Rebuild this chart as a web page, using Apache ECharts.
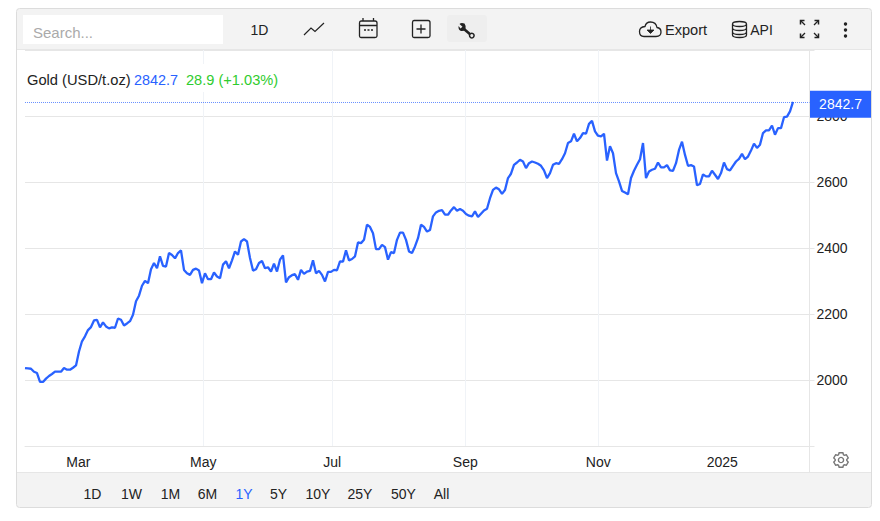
<!DOCTYPE html>
<html>
<head>
<meta charset="utf-8">
<title>Gold</title>
<style>
html,body{margin:0;padding:0;background:#fff}
#chart{width:880px;height:521px}
</style>
<script src="https://cdn.jsdelivr.net/npm/echarts@6/dist/echarts.min.js"></script>
</head>
<body>
<div id="chart"></div>
<script>
// Gold spot price, daily closes, USD per troy ounce
const goldPrices = [
  2037,2036,2035,2026,2022,1995,1995,2005,2013,2019,2026,2026,2026,2037,2032,2032,2038,2045,2087,2118,
  2133,2152,2161,2181,2183,2160,2175,2163,2157,2160,2159,2187,2183,2166,2172,2179,2198,2239,2256,2286,
  2301,2294,2336,2355,2339,2375,2346,2344,2385,2379,2369,2385,2393,2334,2324,2319,2334,2338,2332,2294,
  2324,2306,2306,2326,2314,2309,2350,2360,2339,2363,2390,2380,2420,2427,2420,2370,2332,2336,2355,2361,
  2339,2342,2329,2353,2329,2365,2378,2296,2312,2318,2321,2304,2334,2322,2329,2331,2363,2324,2331,2319,
  2299,2328,2328,2334,2333,2360,2359,2393,2363,2367,2375,2417,2415,2425,2471,2464,2445,2397,2397,2410,
  2403,2365,2388,2385,2425,2447,2447,2425,2390,2385,2405,2430,2471,2464,2450,2455,2496,2508,2513,2515,
  2501,2501,2514,2524,2513,2518,2513,2503,2498,2496,2511,2494,2504,2514,2519,2551,2576,2583,2578,2564,
  2576,2612,2625,2652,2659,2667,2662,2642,2657,2662,2659,2655,2649,2635,2612,2627,2652,2657,2655,2669,
  2687,2718,2723,2746,2723,2733,2748,2746,2776,2785,2753,2740,2738,2746,2665,2708,2687,2627,2602,2573,
  2568,2563,2612,2634,2652,2669,2718,2612,2632,2637,2640,2659,2644,2644,2651,2635,2634,2657,2697,2722,
  2682,2649,2651,2647,2590,2594,2623,2617,2617,2634,2622,2609,2627,2659,2639,2635,2649,2662,2670,2685,
  2669,2677,2695,2716,2703,2713,2748,2756,2756,2771,2743,2763,2763,2796,2798,2813.8,2842.7
];
// Where each month begins, counted in trading sessions
const monthStarts = [17.77, 59.43, 102.43, 146.77, 191.1, 232.43];
const monthLabels = ['Mar', 'May', 'Jul', 'Sep', 'Nov', '2025'];
const rangeLabels = ['1D', '1W', '1M', '6M', '1Y', '5Y', '10Y', '25Y', '50Y', 'All'];
const seriesName = 'Gold (USD/t.oz)';
const lastPrice = 2842.7;
const priceChange = '28.9';
const priceChangePct = '(+1.03%)';

const BLUE = '#2962ff';
const INK = '#222222';
const GRID = '#e6e6e6';
const FONT = 'Arial, "Liberation Sans", sans-serif';

const label = (text, x, y, extra) => ({
  type: 'text', x, y, z: 20, silent: true,
  style: Object.assign({ text, fill: INK, font: '14px ' + FONT, textAlign: 'center', textVerticalAlign: 'middle' }, extra || {})
});

// Toolbar glyphs are registered as custom shapes from their outlines
let glyphCount = 0;
const icon = (d, style) => {
  const name = 'toolbarGlyph' + (glyphCount++);
  echarts.graphic.registerShape(name, echarts.graphic.extendPath(d, {}));
  return {
    type: name, z: 20, silent: true,
    style: Object.assign({ fill: 'none', stroke: '#222', lineWidth: 1.3 }, style || {})
  };
};

// Gear outline for the chart settings button
function gearPath(cx, cy, outer, inner, teeth) {
  const pts = [];
  const step = Math.PI * 2 / teeth;
  for (let i = 0; i < teeth; i++) {
    const a = i * step - Math.PI / 2;
    [[-0.42, inner], [-0.24, outer], [0.24, outer], [0.42, inner]].forEach(([f, r]) => {
      pts.push((cx + r * Math.cos(a + f * step)).toFixed(2) + ' ' + (cy + r * Math.sin(a + f * step)).toFixed(2));
    });
  }
  return 'M' + pts.join('L') + 'Z';
}

const rangeCenters = [92.5, 131.5, 170.5, 207.5, 244, 278.5, 318, 360, 403.5, 441.5];

const chrome = [
  // Frame with toolbar and footer bands
  { type: 'rect', z: 10, silent: true, shape: { x: 17, y: 9, width: 854, height: 40 }, style: { fill: '#f3f3f3' } },
  { type: 'rect', z: 10, silent: true, shape: { x: 17, y: 472, width: 854, height: 35 }, style: { fill: '#f3f3f3' } },
  { type: 'line', z: 11, silent: true, shape: { x1: 17, y1: 49.5, x2: 871, y2: 49.5 }, style: { stroke: GRID, lineWidth: 1 } },
  { type: 'line', z: 11, silent: true, shape: { x1: 17, y1: 472.5, x2: 871, y2: 472.5 }, style: { stroke: GRID, lineWidth: 1 } },
  { type: 'line', z: 11, silent: true, shape: { x1: 809.5, y1: 446, x2: 809.5, y2: 472 }, style: { stroke: GRID, lineWidth: 1 } },
  { type: 'rect', z: 12, silent: true, shape: { x: 16.5, y: 8.5, width: 855, height: 499, r: 3 }, style: { fill: 'none', stroke: '#dcdcdc', lineWidth: 1 } },

  // Search box
  { type: 'rect', z: 12, silent: true, shape: { x: 23, y: 15, width: 200, height: 29 }, style: { fill: '#fff' } },
  label('Search...', 33, 32.5, { fill: '#aaaaaa', font: '15px ' + FONT, textAlign: 'left' }),

  // Left toolbar group
  label('1D', 259.5, 30),
  icon('M304 35L311 28L315 31.5L324 23', { lineWidth: 1.2 }),
  icon('M361 21H375Q377 21 377 23V36Q377 37.5 375 37.5H361Q359.5 37.5 359.5 36V23Q359.5 21 361 21ZM359.5 25.5H377M363 18V21M373.5 18V21M364 30H366M367.5 30H369.5M371 30H373'),
  icon('M414 20.5H428Q430 20.5 430 22.5V36Q430 37.5 428 37.5H414Q412.5 37.5 412.5 36V22.5Q412.5 20.5 414 20.5ZM421 24.5V33.5M416.5 29H425.5'),
  { type: 'rect', z: 12, silent: true, shape: { x: 447, y: 15, width: 40, height: 27, r: 3 }, style: { fill: '#eeeeee' } },
  icon('M464 29L469.8 34', { lineWidth: 2.6 }),
  icon('M464.5 23.5Q461 22.5 459.5 24L462.5 26.8L460.5 28.6L458.6 26Q458 29.5 460.5 30.8Q463 31.5 465.5 29.8Q466.5 26 464.5 23.5Z', { fill: '#222', stroke: 'none' }),
  { type: 'circle', z: 20, silent: true, shape: { cx: 471.8, cy: 35.6, r: 2.3 }, style: { fill: 'none', stroke: '#222', lineWidth: 1.5 } },

  // Right toolbar group
  icon('M644 36.5H656Q661 36.5 661 32Q661 28 657 27.5Q656 22 650.5 22Q646 22 645 26.5Q639.5 27 639.5 31.5Q639.5 36.5 644 36.5Z'),
  icon('M650.5 26.5V31M647 30H654L650.5 33.5Z', { fill: '#222', lineWidth: 0.8 }),
  label('Export', 686, 30, { font: '14.6px ' + FONT }),
  icon('M732.5 24Q732.5 21.5 739.5 21.5Q746.5 21.5 746.5 24V35Q746.5 37.5 739.5 37.5Q732.5 37.5 732.5 35ZM732.5 24Q732.5 26.5 739.5 26.5Q746.5 26.5 746.5 24M732.5 28Q732.5 30.5 739.5 30.5Q746.5 30.5 746.5 28M732.5 32Q732.5 34.5 739.5 34.5Q746.5 34.5 746.5 32'),
  label('API', 761.5, 30),
  icon('M801 21L805 25M818 21L814 25M801 37L805 33M818 37L814 33', { lineWidth: 1.3 }),
  icon('M800.5 24.5V20.5H804.5M814.5 20.5H818.5V24.5M800.5 33.5V37.5H804.5M814.5 37.5H818.5V33.5', { lineWidth: 1.5 }),
  { type: 'circle', z: 20, silent: true, shape: { cx: 845.5, cy: 24, r: 1.7 }, style: { fill: '#222' } },
  { type: 'circle', z: 20, silent: true, shape: { cx: 845.5, cy: 30, r: 1.7 }, style: { fill: '#222' } },
  { type: 'circle', z: 20, silent: true, shape: { cx: 845.5, cy: 36, r: 1.7 }, style: { fill: '#222' } },

  // Settings gear
  icon(gearPath(841, 460, 7.5, 5.8, 6), { stroke: '#777', lineWidth: 1.4 }),
  { type: 'circle', z: 20, silent: true, shape: { cx: 841, cy: 460, r: 2.6 }, style: { fill: 'none', stroke: '#777', lineWidth: 1.4 } },

  // Quote header sits on a white plate over the gridlines
  { type: 'rect', z: 12, silent: true, shape: { x: 27, y: 64, width: 253, height: 28 }, style: { fill: '#fff' } },
  label(seriesName, 27, 80, { textAlign: 'left', font: '14.7px ' + FONT }),
  label(String(lastPrice), 134, 80, { textAlign: 'left', fill: BLUE, font: '14.4px ' + FONT }),
  label(priceChange + ' ' + priceChangePct, 186, 80, { textAlign: 'left', fill: '#2ecc2e', font: '14.6px ' + FONT })
].concat(rangeLabels.map((t, i) => label(t, rangeCenters[i], 494, t === '1Y' ? { fill: BLUE } : {})));

const chart = echarts.init(document.getElementById('chart'), null, { renderer: 'svg', width: 880, height: 521 });
chart.setOption({
  animation: false,
  backgroundColor: '#ffffff',
  textStyle: { fontFamily: FONT },
  grid: { left: 25, top: 49.8, width: 784.5, height: 396.6, containLabel: false },
  xAxis: {
    type: 'value',
    min: 0,
    max: 261.5,
    axisLine: { show: true, onZero: false, lineStyle: { color: GRID, width: 1 } },
    axisTick: { show: true, customValues: monthStarts, length: 0 },
    axisLabel: {
      customValues: monthStarts,
      color: INK, fontSize: 14, margin: 9,
      formatter: v => monthLabels[monthStarts.indexOf(v)]
    },
    splitLine: { show: true, showMinLine: false, showMaxLine: false, lineStyle: { color: '#f0f3f7', width: 1 } }
  },
  yAxis: {
    type: 'value',
    position: 'right',
    min: 1800,
    max: 3000,
    interval: 200,
    axisLine: { show: true, onZero: false, lineStyle: { color: GRID, width: 1 } },
    axisTick: { show: true, length: 5, lineStyle: { color: GRID, width: 1 } },
    axisLabel: {
      color: INK, fontSize: 14, margin: 7,
      formatter: v => (v === 1800 || v === 3000) ? '' : String(v)
    },
    splitLine: { show: true, lineStyle: { color: GRID, width: 1 } }
  },
  series: [{
    type: 'line',
    name: seriesName,
    data: goldPrices.map((v, i) => [i, v]),
    showSymbol: false,
    smooth: false,
    lineStyle: { color: BLUE, width: 2.3 },
    itemStyle: { color: BLUE },
    z: 5,
    markLine: {
      silent: true,
      symbol: 'none',
      lineStyle: { color: 'rgba(41,98,255,0.7)', width: 1, type: 'dotted' },
      label: {
        show: true,
        position: 'end',
        distance: 0,
        formatter: String(lastPrice),
        color: '#fff',
        fontSize: 14,
        backgroundColor: BLUE,
        width: 61,
        height: 27,
        lineHeight: 27,
        align: 'center',
        offset: [31, 2.5]
      },
      data: [{ yAxis: lastPrice }]
    }
  }],
  graphic: { elements: chrome }
});
</script>
</body>
</html>
